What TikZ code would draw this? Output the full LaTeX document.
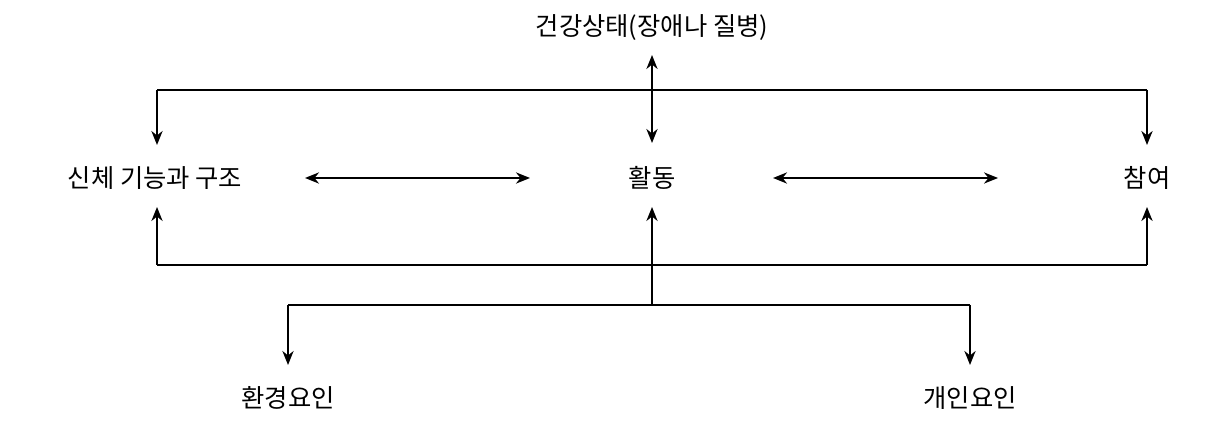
\documentclass[tikz,border=0pt]{standalone}
\usepackage{fontspec}
\newfontfamily\kr{Noto Sans CJK KR}
\usetikzlibrary{arrows.meta}
\begin{document}
\begin{tikzpicture}[x=0.01cm,y=-0.01cm,
  lab/.style={font=\kr\fontsize{7.2}{8}\selectfont,inner sep=0pt},
  ln/.style={line width=0.45pt},
  arr/.style={ln,-{Stealth[length=4pt,width=3.2pt]}},
  darr/.style={ln,{Stealth[length=4pt,width=3.2pt]}-{Stealth[length=4pt,width=3.2pt]}}]
\useasboundingbox (0,0) rectangle (1231,434);
\node[lab] (health) at (652,28) {건강상태(장애나 질병)};
\node[lab] (body) at (155,178) {신체 기능과 구조};
\node[lab] (act) at (652,178) {활동};
\node[lab] (part) at (1147,178) {참여};
\node[lab] (env) at (288,398) {환경요인};
\node[lab] (pers) at (970,398) {개인요인};
% top
\coordinate (hT) at (652,55); \coordinate (hB) at (652,143);
\draw[darr] (hT) -- (hB);
\coordinate (tl) at (157,90); \coordinate (tr) at (1147,90);
\coordinate (tlb) at (157,145); \coordinate (trb) at (1147,145);
\draw[ln] (tl) -- (tr);
\draw[arr] (tl) -- (tlb);
\draw[arr] (tr) -- (trb);
% middle
\coordinate (m1) at (305,178); \coordinate (m2) at (530,178);
\coordinate (m3) at (773,178); \coordinate (m4) at (998,178);
\draw[darr] (m1) -- (m2);
\draw[darr] (m3) -- (m4);
% bottom frame
\coordinate (bl) at (157,265); \coordinate (br) at (1147,265);
\coordinate (blt) at (157,207); \coordinate (brt) at (1147,207);
\draw[ln] (bl) -- (br);
\draw[arr] (bl) -- (blt);
\draw[arr] (br) -- (brt);
\coordinate (cj) at (652,305); \coordinate (ct) at (652,207);
\draw[arr] (cj) -- (ct);
\coordinate (el) at (288,305); \coordinate (er) at (970,305);
\coordinate (elb) at (288,365); \coordinate (erb) at (970,365);
\draw[ln] (el) -- (er);
\draw[arr] (el) -- (elb);
\draw[arr] (er) -- (erb);
\end{tikzpicture}
\end{document}
